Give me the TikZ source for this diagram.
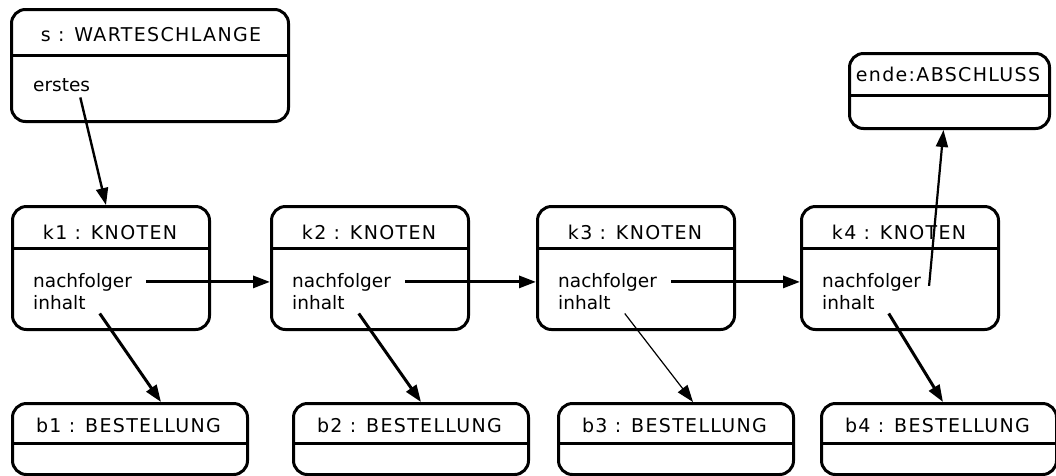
\documentclass[tikz,border=0pt]{standalone}
\usepackage{fontspec}
\setmainfont{DejaVu Sans}
\newfontfamily\titelfont[LetterSpace=7]{DejaVu Sans}
\usetikzlibrary{arrows.meta}

\tikzset{
  objbox/.style={draw, line width=3pt, rounded corners=14pt, anchor=north west, inner sep=0pt},
  trenn/.style={line width=3pt},
  titel/.style={font=\titelfont\fontsize{19}{22}\selectfont, inner sep=0pt, anchor=base},
  attr/.style={font=\fontsize{18.5}{22}\selectfont, inner sep=0pt, anchor=base west},
  pfeil/.style={line width=3pt, -{Triangle[length=17pt,width=12pt]}},
  duenn/.style={line width=1.2pt}
}

\begin{document}
\begin{tikzpicture}[x=1pt, y=-1pt]
  \useasboundingbox (0,0) rectangle (1056,475);

  % warteschlange und abschluss
  \node[objbox, minimum width=277pt, minimum height=112pt] (s) at (10,8) {};
  \draw[trenn] (s.west |- 0,55) -- (s.east |- 0,55);
  \node[titel] (st) at (151,41) {s : WARTESCHLANGE};
  \node[attr] (serst) at (33,91) {erstes};

  \node[objbox, minimum width=200pt, minimum height=75pt] (ende) at (848,52) {};
  \draw[trenn] (ende.west |- 0,95) -- (ende.east |- 0,95);
  \node[titel] (endet) at (948,81) {ende:ABSCHLUSS};

  % knoten und bestellungen
  \foreach \i/\x/\bx in {1/11/11, 2/270/292, 3/536/557, 4/800/820} {
    \node[objbox, minimum width=197pt, minimum height=123pt] (k\i) at (\x,205) {};
    \draw[trenn] (k\i.west |- 0,248) -- (k\i.east |- 0,248);
    \node[titel] (k\i t) at (\x+99,239) {k\i\ : KNOTEN};
    \node[attr] (k\i n) at (\x+22,287) {nachfolger};
    \node[attr] (k\i i) at (\x+22,309) {inhalt};

    \node[objbox, minimum width=235pt, minimum height=71pt] (b\i) at (\bx,402) {};
    \draw[trenn] (b\i.west |- 0,443) -- (b\i.east |- 0,443);
    \node[titel] (b\i t) at (\bx+117.5,432) {b\i\ : BESTELLUNG};
  }

  % verweise
  \draw[pfeil, line width=2.4pt] ([shift={(-10pt,-6pt)}]serst.south east) -- ([xshift=-5pt]k1.north);
  \draw[pfeil] ([xshift=14pt]k1n.east) -- (k2.west |- k1n.east);
  \draw[pfeil] ([xshift=14pt]k2n.east) -- (k3.west |- k2n.east);
  \draw[pfeil] ([xshift=14pt]k3n.east) -- (k4.west |- k3n.east);
  \draw[pfeil, line width=2.2pt] ([shift={(8pt,-4pt)}]k4n.east) -- ([xshift=-6pt]ende.south);

  \draw[pfeil] ([shift={(14pt,-4pt)}]k1i.south east) -- ([xshift=31pt]b1.north);
  \draw[pfeil] ([shift={(14pt,-4pt)}]k2i.south east) -- ([xshift=10pt]b2.north);
  \draw[pfeil, duenn] ([shift={(14pt,-4pt)}]k3i.south east) -- ([xshift=17pt]b3.north);
  \draw[pfeil] ([shift={(14pt,-4pt)}]k4i.south east) -- ([xshift=4pt]b4.north);
\end{tikzpicture}
\end{document}
